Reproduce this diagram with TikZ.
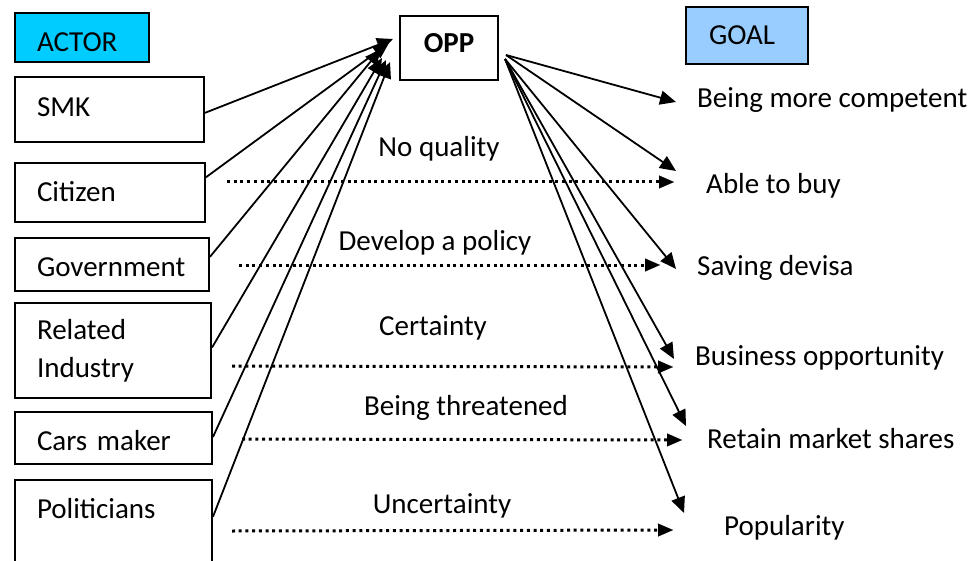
\documentclass[tikz,border=0pt]{standalone}
\usepackage{fontspec}
\setmainfont{Carlito}
\usetikzlibrary{arrows.meta,calc}
\definecolor{actorcyan}{RGB}{0,204,255}
\definecolor{goalblue}{RGB}{153,204,255}
\begin{document}
\begin{tikzpicture}[x=1pt,y=-1pt,font=\fontsize{29}{38}\selectfont,
  box/.style={draw,line width=2pt,inner ysep=0pt,inner xsep=22pt,align=left,anchor=base west},
  arr/.style={line width=1.8pt,-{Triangle[length=16pt,width=14pt]}},
  dotarr/.style={line width=3pt,line cap=butt,dash pattern=on 3pt off 3.7pt,-{Triangle[length=15pt,width=13pt,line width=0.1pt]}},
  lab/.style={anchor=base,inner sep=0pt},
  goal/.style={anchor=base west,inner sep=0pt}]
\useasboundingbox (0,0) rectangle (976,561);

% header boxes
\node[box,fill=actorcyan,text width=90pt,text height=39pt,text depth=10pt] (actor) at (14,52) {ACTOR};
\node[box,inner xsep=0pt,align=center,text width=98pt,text height=37pt,text depth=27pt] (opp) at (399,53) {\bfseries OPP};
\node[box,fill=goalblue,inner xsep=23pt,text width=76pt,text height=38pt,text depth=19pt] (goalh) at (685,45) {GOAL};

% actor boxes
\node[box,text width=145pt,text height=40pt,text depth=25pt] (smk) at (14,117) {SMK};
\node[box,text width=146pt,text height=39pt,text depth=20pt] (cit) at (14,202) {Citizen};
\node[box,text width=150pt,text height=38pt,text depth=15pt] (gov) at (14,276) {Government};
\node[box,anchor=north west,text width=152pt,minimum height=95pt] (rel) at (14,302) {Related\\Industry};
\node[box,text width=153pt,text height=38pt,text depth=14pt] (car) at (14,450) {Cars maker};
\node[box,text width=153pt,text height=38pt,text depth=62pt] (pol) at (14,518) {Politicians};

% goals
\node[goal] (g1) at (697,108) {Being more competent};
\node[goal] (g2) at (706,194) {Able to buy};
\node[goal] (g3) at (697,275) {Saving devisa};
\node[goal] (g4) at (695,365) {Business opportunity};
\node[goal] (g5) at (707,448) {Retain market shares};
\node[goal] (g6) at (724,535) {Popularity};

% labels on dotted arrows
\node[lab] (l1) at (439,157) {No quality};
\node[lab] (l2) at (435,251) {Develop a policy};
\node[lab] (l3) at (433,335) {Certainty};
\node[lab] (l4) at (466,415) {Being threatened};
\node[lab] (l5) at (442,513) {Uncertainty};

% arrow end coordinates near OPP
\coordinate (i1) at (393,39);
\coordinate (i2) at (389,43);
\coordinate (i3) at (381,49);
\coordinate (i4) at (382,58);
\coordinate (i5) at (386,60);
\coordinate (i6) at (390,62);
\coordinate (o1) at ($(opp.east)+(7,7)$);
\coordinate (o2) at ($(opp.east)+(6,11)$);

% actor -> OPP
\draw[arr] ($(smk.north east)!0.55!(smk.south east)$) -- (i1);
\draw[arr] ($(cit.north east)!0.25!(cit.south east)$) -- (i2);
\draw[arr] ($(gov.north east)!0.36!(gov.south east)$) -- (i3);
\draw[arr] ($(rel.north east)!0.47!(rel.south east)$) -- (i4);
\draw[arr] ($(car.north east)!0.48!(car.south east)$) -- (i5);
\draw[arr] ($(pol.north east)!0.37!(pol.south east)$) -- (i6);

% OPP -> goals
\coordinate (t1) at (676,102);
\coordinate (t2) at (676,171);
\coordinate (t3) at (676,269);
\coordinate (t4) at (674,359);
\coordinate (t5) at (686,426);
\coordinate (t6) at (684,513);
\draw[arr] (o1) -- (t1);
\draw[arr] (o1) -- (t2);
\draw[arr] (o2) -- (t3);
\draw[arr] (o2) -- (t4);
\draw[arr] (o2) -- (t5);
\draw[arr] (o2) -- (t6);

% dotted arrows
\coordinate (a1) at (227,182); \coordinate (b1) at (674,182);
\coordinate (a2) at (239,265); \coordinate (b2) at (660,265);
\coordinate (a3) at (232,366); \coordinate (b3) at (673,367);
\coordinate (a4) at (242,439); \coordinate (b4) at (682,440);
\coordinate (a5) at (232,531); \coordinate (b5) at (673,530);
\draw[dotarr] (a1) -- (b1);
\draw[dotarr] (a2) -- (b2);
\draw[dotarr] (a3) -- (b3);
\draw[dotarr] (a4) -- (b4);
\draw[dotarr] (a5) -- (b5);
\end{tikzpicture}
\end{document}
